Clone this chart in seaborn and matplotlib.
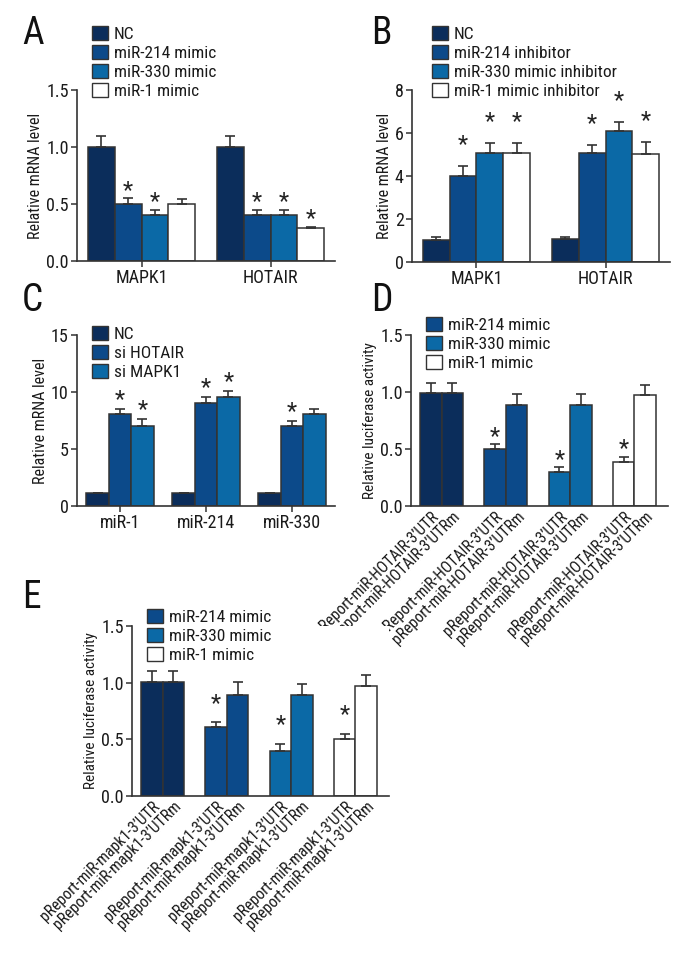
import numpy as np
import pandas as pd
import seaborn as sns
import matplotlib.pyplot as plt
from matplotlib.patches import Patch
from matplotlib.container import BarContainer
import logging
logging.getLogger('matplotlib.font_manager').setLevel(logging.ERROR)

sns.set_theme(style='ticks')
plt.rcParams['font.family'] = ['Roboto Condensed', 'Roboto', 'DejaVu Sans']
plt.rcParams['axes.edgecolor'] = '#333333'
plt.rcParams['xtick.color'] = '#333333'
plt.rcParams['ytick.color'] = '#333333'
plt.rcParams['xtick.labelcolor'] = '#1a1a1a'
plt.rcParams['ytick.labelcolor'] = '#1a1a1a'
plt.rcParams['text.color'] = '#1a1a1a'
plt.rcParams['axes.labelcolor'] = '#1a1a1a'

NAVY = '#0b2d5b'
MID = '#0c4a8a'
LIGHT = '#0b69a6'
WHITE = '#ffffff'
EDGE = '#333333'

# ---------------- data ----------------
# Panel A
a_cats = ['MAPK1', 'HOTAIR']
a_groups = ['NC', 'miR-214 mimic', 'miR-330 mimic', 'miR-1 mimic']
a_nc = [1.00, 1.00]
a_214 = [0.50, 0.40]
a_330 = [0.40, 0.40]
a_1 = [0.50, 0.29]
a_nc_err = [0.10, 0.10]
a_214_err = [0.05, 0.05]
a_330_err = [0.05, 0.05]
a_1_err = [0.04, 0.01]
a_stars = [[False, False], [True, True], [True, True], [False, True]]

# Panel B
b_cats = ['MAPK1', 'HOTAIR']
b_groups = ['NC', 'miR-214 inhibitor', 'miR-330 mimic inhibitor', 'miR-1 mimic inhibitor']
b_nc = [1.00, 1.05]
b_214 = [4.00, 5.05]
b_330 = [5.05, 6.10]
b_1 = [5.05, 5.00]
b_nc_err = [0.15, 0.10]
b_214_err = [0.45, 0.40]
b_330_err = [0.50, 0.40]
b_1_err = [0.50, 0.60]
b_stars = [[False, False], [True, True], [True, True], [True, True]]

# Panel C
c_cats = ['miR-1', 'miR-214', 'miR-330']
c_groups = ['NC', 'si HOTAIR', 'si MAPK1']
c_nc = [1.10, 1.10, 1.10]
c_hotair = [8.05, 9.05, 7.05]
c_mapk1 = [7.05, 9.55, 8.05]
c_nc_err = [0.03, 0.03, 0.03]
c_hotair_err = [0.45, 0.50, 0.40]
c_mapk1_err = [0.55, 0.50, 0.50]
c_stars = [[False, False, False], [True, True, True], [True, True, False]]

# Panel D
d_labels = ['pReport-miR-HOTAIR-3\u2019UTR', 'pReport-miR-HOTAIR-3\u2019UTRm'] * 4
d_groups = ['NC', 'NC', 'miR-214 mimic', 'miR-214 mimic',
            'miR-330 mimic', 'miR-330 mimic', 'miR-1 mimic', 'miR-1 mimic']
d_vals = [0.99, 0.99, 0.50, 0.89, 0.30, 0.89, 0.39, 0.97]
d_errs = [0.09, 0.09, 0.04, 0.09, 0.04, 0.09, 0.04, 0.09]
d_stars = [False, False, True, False, True, False, True, False]

# Panel E
e_labels = ['pReport-miR-mapk1-3\u2019UTR', 'pReport-miR-mapk1-3\u2019UTRm'] * 4
e_groups = d_groups
e_vals = [1.01, 1.01, 0.605, 0.895, 0.40, 0.895, 0.50, 0.97]
e_errs = [0.095, 0.095, 0.045, 0.11, 0.06, 0.095, 0.05, 0.095]
e_stars = [False, False, True, False, True, False, True, False]

# bar slots for D / E (pairs separated by one empty slot)
pair_pos = [0, 1, 3, 4, 6, 7, 9, 10]

color_map = {'NC': NAVY, 'miR-214 mimic': MID, 'miR-330 mimic': LIGHT, 'miR-1 mimic': WHITE,
             'miR-214 inhibitor': MID, 'miR-330 mimic inhibitor': LIGHT,
             'miR-1 mimic inhibitor': WHITE, 'si HOTAIR': MID, 'si MAPK1': LIGHT}

W, H = 700, 963
fig = plt.figure(figsize=(W / 100, H / 100), dpi=100)

TICK_FS = 13
LEG_FS = 12.5
XROT_FS = 11.3


def px_axes(left, right, top, bottom):
    return fig.add_axes([left / W, 1 - bottom / H, (right - left) / W, (bottom - top) / H])


def style_axes(ax, yticks, ylabel, ylabel_fs):
    sns.despine(ax=ax)
    ax.spines['left'].set_linewidth(1.2)
    ax.spines['bottom'].set_linewidth(1.2)
    ax.set_yticks(yticks)
    ax.set_ylim(yticks[0], yticks[-1])
    ax.tick_params(axis='both', length=4, width=1.1, labelsize=TICK_FS, pad=2)
    ax.set_ylabel(ylabel, fontsize=ylabel_fs, labelpad=2)
    ax.set_xlabel('')


def add_legend(ax, groups, x, y):
    handles = [Patch(facecolor=color_map[g], edgecolor=EDGE, linewidth=1) for g in groups]
    ax.legend(handles, groups, loc='upper left', bbox_to_anchor=(x / W, 1 - y / H),
              bbox_transform=fig.transFigure, frameon=False, fontsize=LEG_FS,
              handlelength=0.9, handleheight=0.9, handletextpad=0.35,
              labelspacing=0.16, borderpad=0, borderaxespad=0)


def bar_containers(ax):
    return [c for c in ax.containers if isinstance(c, BarContainer)]


def draw_err_star(ax, bar, e, s, star_off):
    x = bar.get_x() + bar.get_width() / 2
    h = bar.get_height()
    ax.errorbar(x, h, yerr=[[0], [e]], fmt='none', ecolor=EDGE,
                elinewidth=1.2, capsize=3.5, capthick=1.2, zorder=1)
    if s:
        ax.text(x, h + e + star_off, '*', ha='center', va='center',
                fontsize=17, color='#222222')


def grouped_panel(ax, cats, groups, series, errs, stars, width, star_off):
    rows = []
    for g, vals in zip(groups, series):
        for c, v in zip(cats, vals):
            rows.append({'cat': c, 'grp': g, 'val': v})
    df = pd.DataFrame(rows)
    sns.barplot(data=df, x='cat', y='val', hue='grp', order=cats, hue_order=groups,
                palette={g: color_map[g] for g in groups}, width=width, errorbar=None,
                edgecolor=EDGE, linewidth=1.1, ax=ax, legend=False, saturation=1)
    for i, cont in enumerate(bar_containers(ax)):
        for j, bar in enumerate(cont):
            draw_err_star(ax, bar, errs[i][j], stars[i][j], star_off)
    ax.set_xlim(-0.5, len(cats) - 0.5)


def pair_panel(ax, labels, groups, vals, errs, stars, star_off):
    df = pd.DataFrame({'pos': pair_pos, 'grp': groups, 'val': vals})
    hue_order = ['NC', 'miR-214 mimic', 'miR-330 mimic', 'miR-1 mimic']
    sns.barplot(data=df, x='pos', y='val', hue='grp', hue_order=hue_order,
                palette={g: color_map[g] for g in hue_order}, native_scale=True,
                dodge=False, width=1.0, errorbar=None, edgecolor=EDGE, linewidth=1.1,
                ax=ax, legend=False, saturation=1)
    lookup = {p: (e, s) for p, e, s in zip(pair_pos, errs, stars)}
    for cont in bar_containers(ax):
        for bar in cont:
            x = bar.get_x() + bar.get_width() / 2
            e, s = lookup[int(round(x))]
            draw_err_star(ax, bar, e, s, star_off)
    ax.set_xlim(-0.93, 11.07)
    ax.set_xticks(pair_pos)
    ax.set_xticklabels(labels, rotation=45, ha='right', va='top',
                       rotation_mode='anchor')


# ---------------- Panel A ----------------
axA = px_axes(77, 335, 90, 261)
grouped_panel(axA, a_cats, a_groups, [a_nc, a_214, a_330, a_1],
              [a_nc_err, a_214_err, a_330_err, a_1_err], a_stars, 0.83, 0.07)
style_axes(axA, [0.0, 0.5, 1.0, 1.5], 'Relative mRNA level', 11.5)
axA.set_yticklabels(['0.0', '0.5', '1.0', '1.5'])
add_legend(axA, a_groups, 92, 26)

# ---------------- Panel B ----------------
axB = px_axes(412, 670, 90, 262)
grouped_panel(axB, b_cats, b_groups, [b_nc, b_214, b_330, b_1],
              [b_nc_err, b_214_err, b_330_err, b_1_err], b_stars, 0.83, 1.0)
style_axes(axB, [0, 2, 4, 6, 8], 'Relative mRNA level', 11.5)
add_legend(axB, b_groups, 432, 26)

# ---------------- Panel C ----------------
axC = px_axes(77, 335, 335, 506)
grouped_panel(axC, c_cats, c_groups, [c_nc, c_hotair, c_mapk1],
              [c_nc_err, c_hotair_err, c_mapk1_err], c_stars, 0.78, 0.85)
style_axes(axC, [0, 5, 10, 15], 'Relative mRNA level', 11.5)
add_legend(axC, c_groups, 92, 326)

# ---------------- Panel D ----------------
axD = px_axes(411, 668, 335, 506)
pair_panel(axD, d_labels, d_groups, d_vals, d_errs, d_stars, 0.07)
style_axes(axD, [0.0, 0.5, 1.0, 1.5], 'Relative luciferase activity', 11)
axD.set_yticklabels(['0.0', '0.5', '1.0', '1.5'])
axD.tick_params(axis='x', length=0, labelsize=XROT_FS)
add_legend(axD, ['miR-214 mimic', 'miR-330 mimic', 'miR-1 mimic'], 426, 317)

# ---------------- Panel E ----------------
axE = px_axes(132, 389, 626, 796)
pair_panel(axE, e_labels, e_groups, e_vals, e_errs, e_stars, 0.17)
style_axes(axE, [0.0, 0.5, 1.0, 1.5], 'Relative luciferase activity', 11)
axE.set_yticklabels(['0.0', '0.5', '1.0', '1.5'])
axE.tick_params(axis='x', length=0, labelsize=XROT_FS)
add_legend(axE, ['miR-214 mimic', 'miR-330 mimic', 'miR-1 mimic'], 147, 609)

# panel letters
for letter, x, y in [('A', 22, 15), ('B', 371, 15), ('C', 22, 282), ('D', 371, 282), ('E', 22, 579)]:
    fig.text(x / W, 1 - y / H, letter, fontsize=27, ha='left', va='top', color='#111111')

fig.savefig('out.png', dpi=100)
